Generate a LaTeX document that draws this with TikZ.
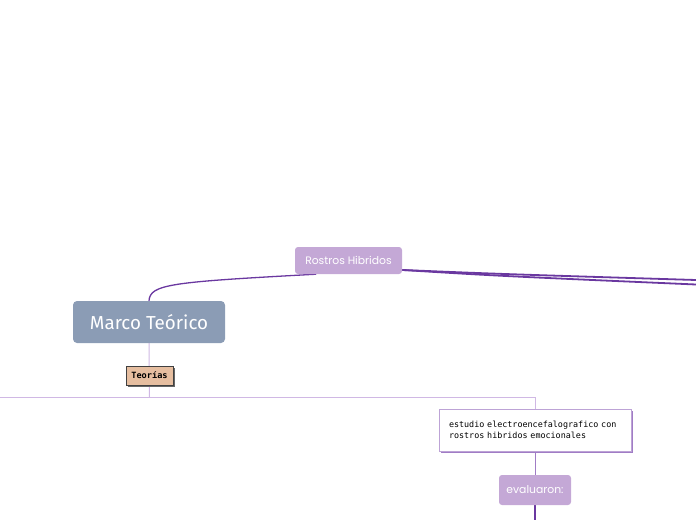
\documentclass[tikz,border=0pt]{standalone}
\usepackage{fontspec}
\setmainfont{Fira Sans}
\setmonofont{DejaVu Sans Mono}
\newfontfamily\popfont{Poppins}
\usetikzlibrary{positioning,backgrounds,shadows}

\definecolor{lilac}{RGB}{196,168,214}
\definecolor{slate}{RGB}{139,156,181}
\definecolor{peach}{RGB}{230,190,160}
\definecolor{palelink}{RGB}{208,184,228}
\definecolor{midlink}{RGB}{160,124,197}
\definecolor{darklink}{RGB}{106,56,160}

\begin{document}
\begin{tikzpicture}[x=1pt,y=-1pt,
  topic/.style={rounded corners=3pt,fill=lilac,text=white,inner sep=0pt,font=\popfont\fontsize{10.8}{12}\selectfont},
  mainbox/.style={rounded corners=4pt,fill=slate,text=white,inner sep=0pt,minimum width=152pt,minimum height=42pt,font=\fontsize{18.8}{21}\selectfont},
  tag/.style={draw=black!75,fill=peach,inner sep=0pt,minimum width=47pt,minimum height=19pt,font=\ttfamily\bfseries\fontsize{8.6}{9}\selectfont,
    general shadow={fill=black!60,shadow xshift=1.5pt,shadow yshift=-1.5pt}},
  notebox/.style={draw=midlink!70,fill=white,inner sep=0pt,minimum width=192pt,minimum height=42pt,align=left,text width=172pt,
    font=\ttfamily\fontsize{8.4}{11.5}\selectfont,
    general shadow={fill=midlink,shadow xshift=1.5pt,shadow yshift=-1.5pt}},
  pale/.style={draw=palelink,line width=1pt},
  mid/.style={draw=midlink,line width=1pt},
  dark/.style={draw=darklink,line width=1.8pt}]
\useasboundingbox (0,0) rectangle (696,520);

% nodes
\node[topic,minimum width=107pt,minimum height=27pt] (rostros) at (348.5,260.5) {Rostros Hibridos};
\node[mainbox] (marco) at (149,322) {Marco Teórico};
\node[tag] (teorias) at (149.5,375.5) {Teorías};
\node[notebox] (estudio) at (535,430) {estudio electroencefalografico con\\rostros hibridos emocionales};
\node[topic,minimum width=72pt,minimum height=30pt] (evaluaron) at (535,490) {evaluaron:};

\coordinate (split) at (149.5,397);
\coordinate (offleft) at (0,397);
\coordinate (offright1) at (696,280);
\coordinate (offright2) at (696,284.5);
\coordinate (offdown) at (535,520);

% connectors
\begin{scope}[on background layer]
\draw[darklink,line width=1.3pt] (rostros.-157) .. controls (172,282) and (150,284) .. (marco.north);
\draw[dark] (rostros.-10) .. controls (500,274) .. (offright1);
\draw[dark] (rostros.-10) .. controls (500,276) .. (offright2);
\draw[pale] (marco.south) -- (split);
\draw[pale] (split) -- (offleft);
\draw[pale] (split) -| (estudio.north);
\draw[mid] (estudio.south) -- (evaluaron.north);
\draw[dark] (evaluaron.south) -- (offdown);
\end{scope}
\end{tikzpicture}
\end{document}
